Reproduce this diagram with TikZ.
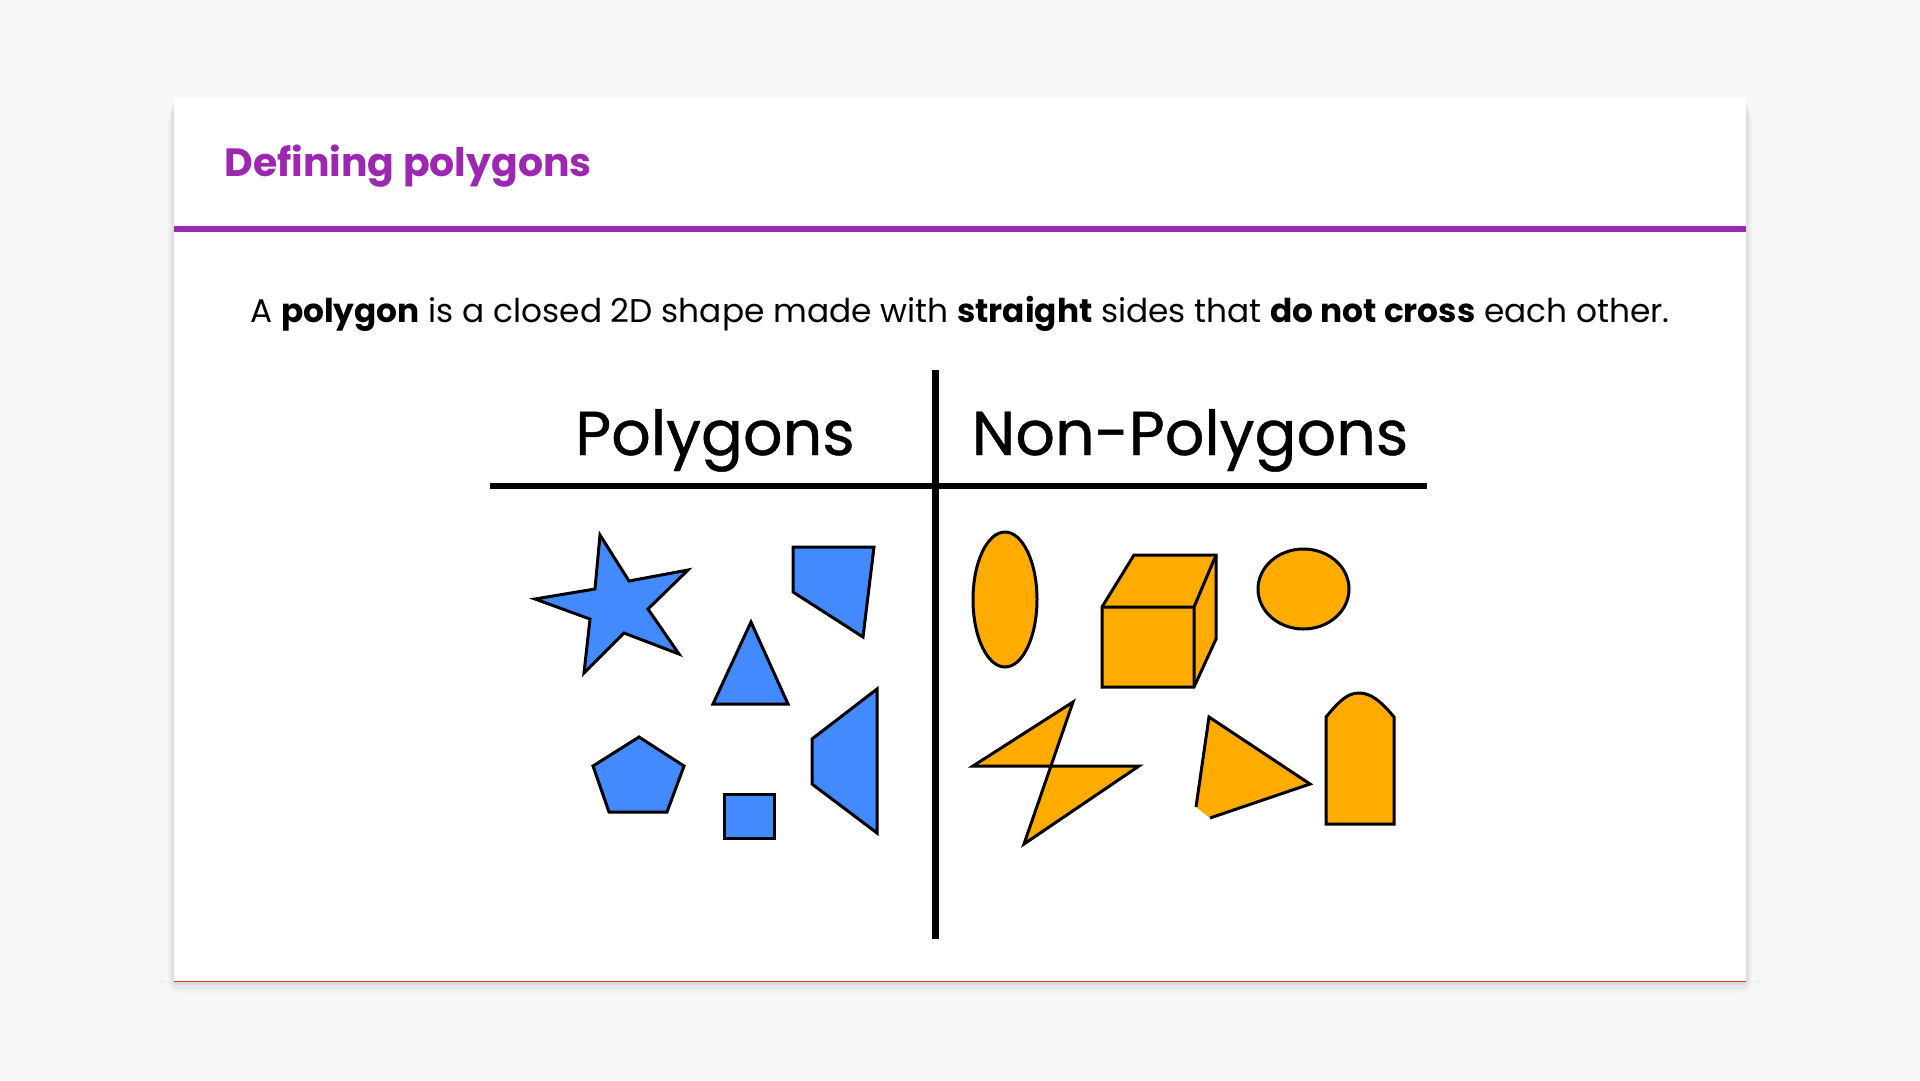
\documentclass[tikz,border=0pt]{standalone}
\usepackage{fontspec}
\setmainfont{Poppins}
\newfontfamily\headfont[FakeBold=0.7]{Poppins}
\definecolor{pagebg}{HTML}{F7F7F7}
\definecolor{titlepurple}{HTML}{9C27B0}
\definecolor{polyblue}{HTML}{448AFF}
\definecolor{nonorange}{HTML}{FFAB00}
\definecolor{edgered}{HTML}{E53935}
\begin{document}
\begin{tikzpicture}[x=1pt,y=-1pt,
	polyshape/.style={fill=polyblue,draw=black,line width=3pt,line join=miter},
	nonshape/.style={fill=nonorange,draw=black,line width=3pt,line join=miter},
	rule/.style={line width=6.5pt}]
	\useasboundingbox[fill=pagebg] (0,0) rectangle (1920,1080);
	% card with soft shadow
	\foreach \d/\o in {12/0.025,8/0.035,4/0.045}
		\fill[black,opacity=\o,rounded corners=\d] (174-\d/2,98+\d) rectangle (1746+\d/2,981+\d);
	\fill[white] (174,98) rectangle (1746,981);
	\draw[edgered,line width=1pt] (174,981)--(1746,981);
	\draw[titlepurple,line width=6pt] (174,229)--(1746,229);
	\path
	(221,176) node[anchor=base west,titlepurple,font=\fontsize{39.4}{46}\selectfont\bfseries] (title) {Defining polygons}
	(960,322) node[anchor=base,font=\fontsize{32.8}{40}\selectfont] (defn)
		{A \textbf{polygon} is a closed 2D shape made with \textbf{straight} sides that \textbf{do not cross} each other.}
	(715,455) node[anchor=base,font=\headfont\fontsize{62}{70}\selectfont] (polyhead) {Polygons}
	(1190,455) node[anchor=base,font=\headfont\fontsize{62}{70}\selectfont] (nonhead) {Non-Polygons}
	;
	% the T table
	\draw[rule] (935.5,370)--(935.5,939);
	\draw[rule] (490,486)--(1427,486);
	% polygons
	\draw[polyshape] (600,535)--(629,581)--(688,570)--(648,609)--(679,654)--(624,633)
		--(584,673)--(590,619)--(535,599)--(595,589)--cycle;
	\draw[polyshape] (793,547)--(874,547)--(863,637)--(793,592)--cycle;
	\draw[polyshape] (751,622)--(788,704)--(713,704)--cycle;
	\draw[polyshape] (639,737)--(684,766)--(667,812)--(609,812)--(593,766)--cycle;
	\draw[polyshape] (724,794) rectangle (774,838);
	\draw[polyshape] (877,689)--(877,833)--(812,784)--(812,739)--cycle;
	% non-polygons
	\draw[nonshape] (1005,599.5) ellipse [x radius=32,y radius=67.5];
	\draw[nonshape] (1102,607)--(1134,555)--(1216,555)--(1216,639)--(1194,687)--(1102,687)--cycle;
	\draw[nonshape] (1102,607)--(1194,607)--(1216,555) (1194,607)--(1194,687);
	\draw[nonshape] (1303.5,589) ellipse [x radius=45.5,y radius=40];
	\draw[nonshape] (973,766)--(1073,702)--(1024,844)--(1139,766)--cycle;
	\fill[nonorange] (1196,807)--(1209,717)--(1310,784)--(1210,818)--cycle;
	\draw[line width=3pt] (1196,807)--(1209,717)--(1310,784)--(1210,818);
	\draw[nonshape] (1326,824)--(1326,717) .. controls (1340,700) and (1348,693) .. (1359,693)
		.. controls (1370,693) and (1380,700) .. (1394,717)--(1394,824)--cycle;
\end{tikzpicture}
\end{document}
